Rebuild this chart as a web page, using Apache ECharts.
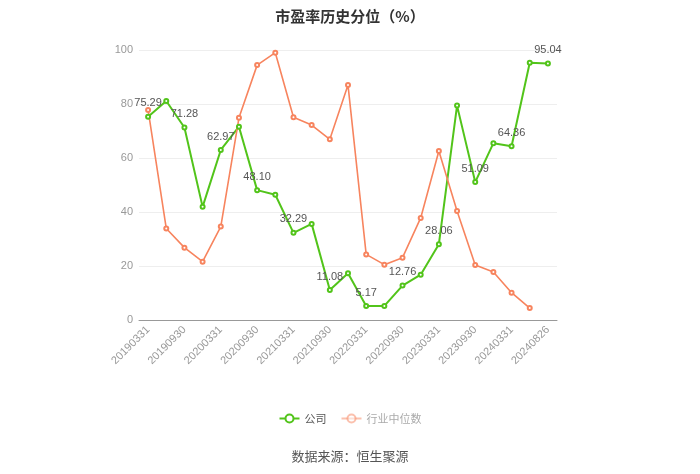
<!DOCTYPE html>
<html>
<head>
<meta charset="utf-8">
<script src="https://cdn.jsdelivr.net/npm/echarts@6/dist/echarts.min.js"></script>
<style>html,body{margin:0;padding:0;background:#fff}#c{width:700px;height:474px}</style>
</head>
<body>
<div id="c"></div>
<script>
var categories = ['20190331','20190630','20190930','20191231','20200331','20200630','20200930','20201231','20210331','20210630','20210930','20211231','20220331','20220630','20220930','20221231','20230331','20230630','20230930','20231231','20240331','20240630','20240826'];
var companyValues = [75.29,81.1,71.28,41.9,62.97,71.6,48.10,46.4,32.29,35.6,11.08,17.3,5.17,5.2,12.76,16.8,28.06,79.4,51.09,65.5,64.36,95.3,95.04];
var industryValues = [77.8,33.9,26.8,21.6,34.6,74.9,94.4,99.0,75.1,72.2,66.9,87.0,24.3,20.5,23.1,37.8,62.6,40.4,20.4,17.8,10.1,4.4];
var yTicks = [0,20,40,60,80,100];
var GREEN = '#52c41a', ORANGE = '#f7845e';
var chart = echarts.init(document.getElementById('c'));
chart.setOption({
  backgroundColor: '#fff',
  animation: false,
  title: {text: '市盈率历史分位（%）', left: 'center', top: 4,
    textStyle: {fontSize: 15, fontWeight: 'bold', color: '#333', fontFamily: 'Noto Sans CJK SC'}},
  graphic: [{type: 'text', left: 'center', top: 450,
    style: {text: '数据来源：恒生聚源', fontSize: 13, fill: '#555', fontFamily: 'Noto Sans CJK SC'}}],
  legend: {bottom: 45, left: 'center', itemWidth: 20, itemHeight: 10, itemGap: 14,
    textStyle: {fontSize: 11, color: '#555', fontFamily: 'Noto Sans CJK SC'},
    data: [{name: '公司'}, {name: '行业中位数', itemStyle: {opacity: 0.5}, lineStyle: {opacity: 0.5}, textStyle: {color: '#aaa'}}]},
  grid: {left: 139, right: 143, top: 50, bottom: 154},
  xAxis: {type: 'category', data: categories, boundaryGap: true,
    axisLine: {lineStyle: {color: '#999'}},
    axisTick: {alignWithLabel: true, interval: 1, lineStyle: {color: '#999'}},
    axisLabel: {interval: 1, rotate: 45, color: '#999', fontSize: 11, margin: 8}},
  yAxis: {type: 'value', min: yTicks[0], max: yTicks[yTicks.length-1], interval: 20,
    axisLine: {show: false}, axisTick: {show: false},
    axisLabel: {color: '#999', fontSize: 11, margin: 6},
    splitLine: {lineStyle: {color: '#eee'}}},
  series: [
    {name: '公司', type: 'line', data: companyValues, symbol: 'emptyCircle', symbolSize: 4,
      itemStyle: {color: GREEN}, lineStyle: {color: GREEN, width: 2},
      label: {show: true, position: 'top', color: '#555', fontSize: 11,
        formatter: function(p){ return p.dataIndex % 2 === 0 ? p.value.toFixed(2) : ''; }}},
    {name: '行业中位数', type: 'line', data: industryValues, symbol: 'emptyCircle', symbolSize: 4,
      itemStyle: {color: ORANGE}, lineStyle: {color: ORANGE, width: 1.6}}
  ]
});
</script>
</body>
</html>
